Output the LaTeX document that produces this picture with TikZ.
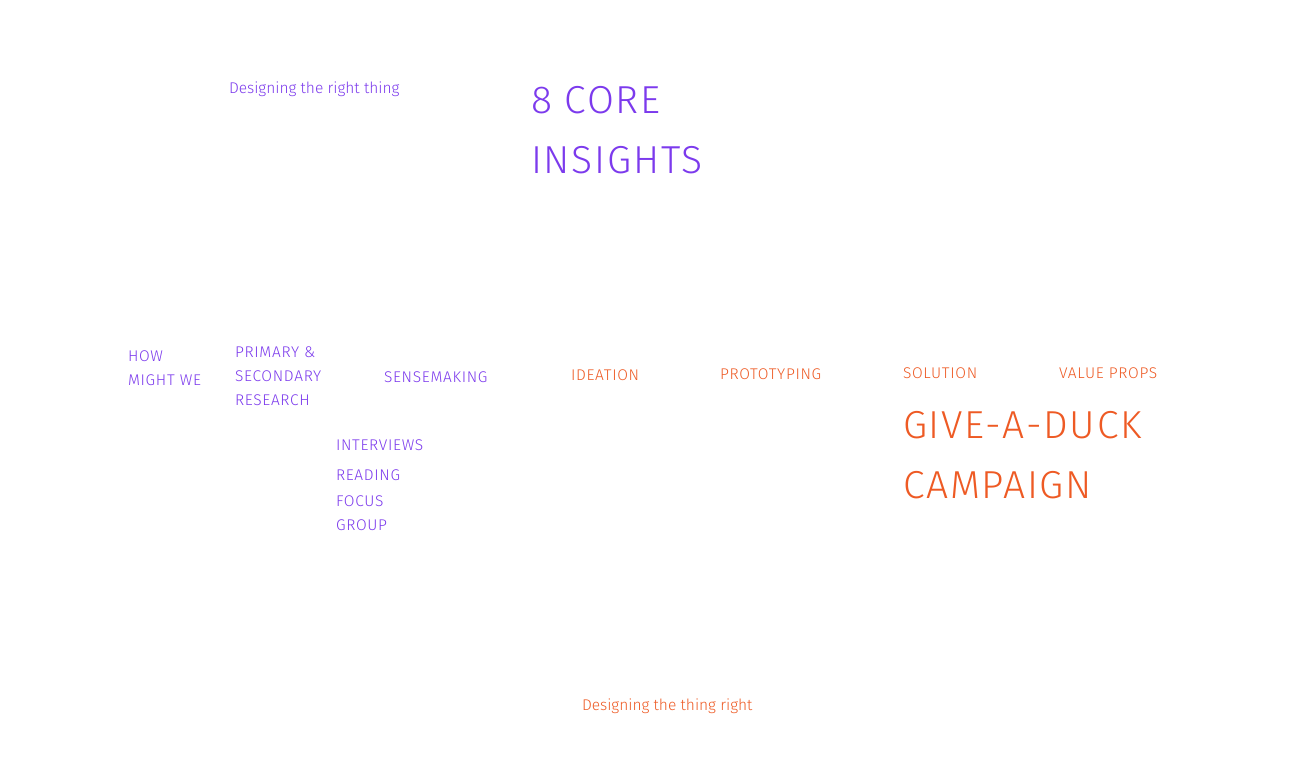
\documentclass[tikz,border=0pt]{standalone}
\usepackage{fontspec}
\setmainfont{Fira Sans Light}
% a slightly tracked cut for the all-caps labels
\newfontfamily\capsfont{Fira Sans Light}[LetterSpace=4.5]
\definecolor{rightthing}{HTML}{7C3AED}
\definecolor{thingright}{HTML}{EE5A24}
\tikzset{
  lbl/.style={anchor=base west, inner sep=0pt, outer sep=0pt, font=\fontsize{15.5}{18}\selectfont},
  caps/.style={anchor=base west, inner sep=0pt, outer sep=0pt, font=\capsfont\fontsize{15.5}{18}\selectfont},
  big/.style={anchor=base west, inner sep=0pt, outer sep=0pt, font=\capsfont\fontsize{39}{44}\selectfont},
  purple/.style={text=rightthing},
  orange/.style={text=thingright}
}
\begin{document}
\begin{tikzpicture}[x=1pt,y=-1pt]
\useasboundingbox[fill=white] (0,0) rectangle (1292,774);
% diverging half: designing the right thing
\node[lbl,purple] (rt) at (229,93) {Designing the right thing};
\node[big,purple] (core1) at (531,113) {8 CORE};
\node[big,purple] (core2) at (531,173) {INSIGHTS};
\node[caps,purple] (how1) at (128,361) {HOW};
\node[caps,purple] (how2) at (128,385) {MIGHT WE};
\node[caps,purple] (res1) at (235,357) {PRIMARY \&};
\node[caps,purple] (res2) at (235,381) {SECONDARY};
\node[caps,purple] (res3) at (235,405) {RESEARCH};
\node[caps,purple] (sense) at (384,382) {SENSEMAKING};
\node[caps,purple] (intv) at (336,450) {INTERVIEWS};
\node[caps,purple] (read) at (336,480) {READING};
\node[caps,purple] (focus1) at (336,506) {FOCUS};
\node[caps,purple] (focus2) at (336,530) {GROUP};
% converging half: designing the thing right
\node[caps,orange] (idea) at (571,380) {IDEATION};
\node[caps,orange] (proto) at (720,379) {PROTOTYPING};
\node[caps,orange] (sol) at (903,378) {SOLUTION};
\node[caps,orange] (vp) at (1059,378) {VALUE PROPS};
\node[big,orange] (duck1) at (903,438) {GIVE-A-DUCK};
\node[big,orange] (duck2) at (903,498) {CAMPAIGN};
\node[lbl,orange] (tr) at (582,710) {Designing the thing right};
\end{tikzpicture}
\end{document}
